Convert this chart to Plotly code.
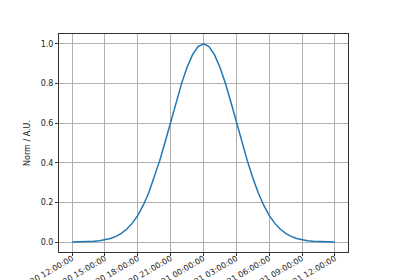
import pandas as pd
import plotly.graph_objects as go

start_time = "2020-06-20 12:00:00"
step = "30min"
norm_values = [
    0.0003, 0.0006, 0.0012, 0.0022, 0.0039, 0.0066, 0.0111, 0.0181, 0.0286,
    0.0439, 0.0657, 0.0956, 0.135, 0.186, 0.249, 0.325, 0.411, 0.506, 0.607,
    0.707, 0.801, 0.882, 0.946, 0.986, 1.000, 0.986, 0.946, 0.882, 0.801,
    0.707, 0.607, 0.506, 0.411, 0.325, 0.249, 0.186, 0.135, 0.0956, 0.0657,
    0.0439, 0.0286, 0.0181, 0.0111, 0.0066, 0.0039, 0.0022, 0.0012, 0.0006,
    0.0003,
]
y_ticks = [0.0, 0.2, 0.4, 0.6, 0.8, 1.0]
y_label = "Norm / A.U."

times = pd.date_range(start=start_time, periods=len(norm_values), freq=step)
span = times[-1] - times[0]
xr = [times[0] - span * 0.05, times[-1] + span * 0.05]
tick_times = pd.date_range(start=times[0], end=times[-1], freq="3h")

fig = go.Figure(go.Scatter(x=times, y=norm_values, mode="lines",
                           line=dict(color="#1f77b4", width=1.5)))
font = dict(family="DejaVu Sans", size=8, color="#222")
fig.update_layout(
    width=400, height=280,
    margin=dict(l=59, r=52, t=34, b=28),
    paper_bgcolor="white", plot_bgcolor="white",
    showlegend=False, font=font,
)
fig.update_xaxes(
    range=xr, tickvals=tick_times, tickformat="%Y-%m-%d %H:%M:%S",
    tickangle=-30, ticks="outside", ticklen=3, tickcolor="#333",
    showgrid=True, gridcolor="#b0b0b0", gridwidth=0.8,
    showline=True, linecolor="#333", linewidth=1, mirror=True,
    zeroline=False, automargin=False, tickfont=dict(size=8),
    ticklabelstandoff=-5, ticklabeloverflow="allow",
)
fig.update_yaxes(
    range=[-0.05, 1.05], tickvals=y_ticks, tickformat=".1f",
    ticks="outside", ticklen=3, tickcolor="#333",
    showgrid=True, gridcolor="#b0b0b0", gridwidth=0.8,
    showline=True, linecolor="#333", linewidth=1, mirror=True,
    zeroline=False, automargin=False,
    title=dict(text=y_label, standoff=8, font=dict(size=8)),
    tickfont=dict(size=8),
)
fig.write_html("out.html")
